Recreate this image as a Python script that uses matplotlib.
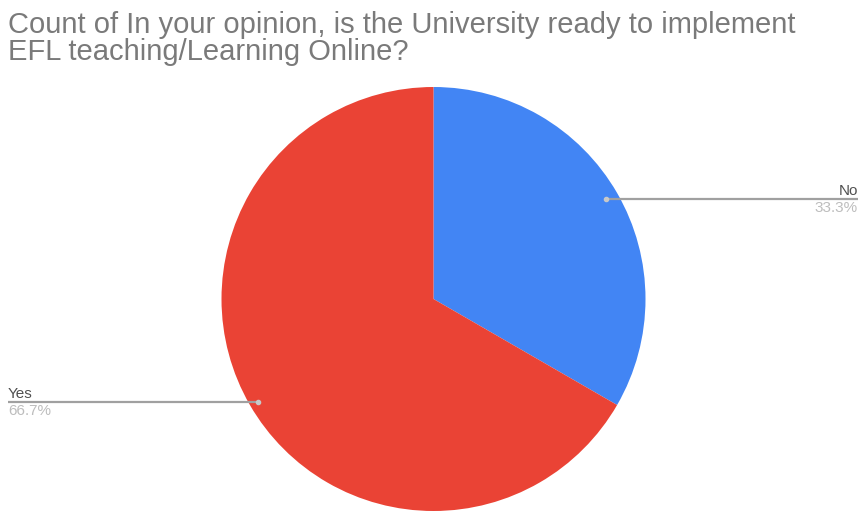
import matplotlib
matplotlib.use("Agg")
import matplotlib.pyplot as plt

# Survey answers (counts) and display colours
categories = ["No", "Yes"]
counts = [1, 2]
colors = ["#4285F4", "#EA4335"]
title_lines = ["Count of In your opinion, is the University ready to implement",
               "EFL teaching/Learning Online?"]

W, H = 861, 512
fig = plt.figure(figsize=(W / 100, H / 100), dpi=100)
ax = fig.add_axes([0, 0, 1, 1])

# pixel-style coordinates, y measured upward from the bottom edge
cx, cy, r = 433.5, H - 299, 212
wedges, _ = ax.pie(counts, colors=colors, startangle=90, counterclock=False,
                   center=(cx, cy), radius=r, frame=True,
                   wedgeprops=dict(linewidth=0))
ax.set_xlim(0, W)
ax.set_ylim(0, H)
ax.set_aspect("equal")
ax.axis("off")

for line, base in zip(title_lines, [33, 60]):
    ax.text(8, H - base, line, ha="left", va="baseline", fontsize=21,
            color="#7a7a7a", family="Liberation Sans")

total = sum(counts)
pcts = [c / total * 100 for c in counts]

# Callout lines: anchor on slice -> label edge
callouts = [
    dict(anchor=(606, H - 199), end=858, ha="right"),
    dict(anchor=(258, H - 402), end=8, ha="left"),
]
for cat, pct, co in zip(categories, pcts, callouts):
    px, py = co["anchor"]
    ax.plot([px, co["end"]], [py, py], color="#a0a0a0", lw=1.6,
            solid_capstyle="butt", zorder=3)
    ax.plot([px], [py], marker="o", ms=3, color="#c8c8c8", zorder=4)
    ax.text(co["end"], py + 4, cat, ha=co["ha"], va="baseline", fontsize=11,
            color="#505050", family="Liberation Sans")
    ax.text(co["end"], py - 13, f"{pct:.1f}%", ha=co["ha"], va="baseline", fontsize=11,
            color="#bdbdbd", family="Liberation Sans")

fig.savefig("out.png", dpi=100)
